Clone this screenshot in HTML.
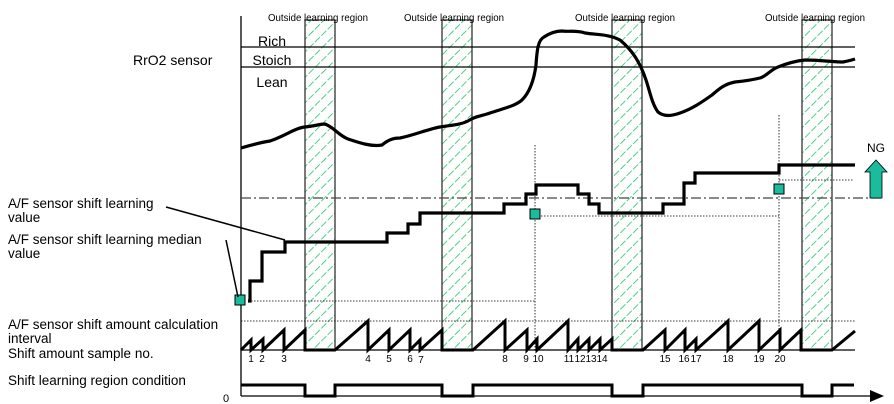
<!DOCTYPE html>
<html><head><meta charset="utf-8"><style>
html,body{margin:0;padding:0;background:#fff;}
svg{display:block;font-family:"Liberation Sans",Arial,sans-serif;}
</style></head><body>
<svg width="894" height="404" viewBox="0 0 894 404" xmlns="http://www.w3.org/2000/svg">
<defs>
<pattern id="h" patternUnits="userSpaceOnUse" width="9" height="9" patternTransform="rotate(45)">
<line x1="0" y1="0" x2="0" y2="9" stroke="#22c46a" stroke-width="1.6" stroke-dasharray="5,2"/>
</pattern>
</defs>
<g stroke="#333" stroke-width="1.3">
<rect x="305" y="20" width="30" height="330" fill="url(#h)"/>
<rect x="442" y="20" width="30" height="330" fill="url(#h)"/>
<rect x="612" y="20" width="30" height="330" fill="url(#h)"/>
<rect x="802" y="20" width="30" height="330" fill="url(#h)"/>
</g>
<g font-size="10.5" fill="#000" text-anchor="middle">
<text x="318" y="21" textLength="100" lengthAdjust="spacingAndGlyphs">Outside learning region</text>
<text x="454" y="21" textLength="100" lengthAdjust="spacingAndGlyphs">Outside learning region</text>
<text x="625" y="21" textLength="100" lengthAdjust="spacingAndGlyphs">Outside learning region</text>
<text x="815" y="21" textLength="100" lengthAdjust="spacingAndGlyphs">Outside learning region</text>
</g>
<line x1="241" y1="16" x2="241" y2="396" stroke="#000" stroke-width="1.3"/>
<line x1="241" y1="47" x2="855" y2="47" stroke="#000" stroke-width="1.2"/>
<line x1="241" y1="67" x2="855" y2="67" stroke="#000" stroke-width="1.2"/>
<g font-size="14" text-anchor="middle">
<text x="272" y="46">Rich</text>
<text x="272" y="65">Stoich</text>
<text x="272" y="87">Lean</text>
</g>
<text x="133" y="65" font-size="14">RrO2 sensor</text>
<path d="M241,148 C255,144 262,142 270,141 C285,136 295,128 305,127 C315,126 320,124 325,124 C335,128 338,135 348,139 C360,143 372,147 382,145 C388,140 393,138 400,138 C415,135 428,129 440,127 C452,125 460,125 468,121 C475,116 482,116 490,113 C505,108 515,106 522,100 C530,92 534,80 536,65 C537,50 538,40 544,37 C550,33 556,31 562,31 C570,32 576,30 585,33 C598,35 608,34 620,40 C632,50 640,62 646,80 C650,92 652,104 658,112 C664,117 672,116 680,113 C692,109 702,102 712,95 C720,88 725,84 735,82 C745,81 752,80 760,78 C767,76 770,70 778,67 C788,63 795,61 805,60 C820,60 835,62 843,62 C848,61 852,60 855,59" fill="none" stroke="#000" stroke-width="3.2" stroke-linejoin="round"/>
<line x1="241" y1="198" x2="882" y2="198" stroke="#444" stroke-width="1.2" stroke-dasharray="10,3,2,3"/>
<g stroke="#000" stroke-width="0.8" stroke-dasharray="1.5,1.5" fill="none">
<line x1="248" y1="301" x2="535" y2="301"/>
<line x1="241" y1="321" x2="855" y2="321"/>
<line x1="535" y1="145" x2="535" y2="350"/>
<line x1="535" y1="216" x2="779" y2="216"/>
<line x1="779" y1="115" x2="779" y2="350"/>
<line x1="779" y1="180" x2="853" y2="180"/>
</g>
<path d="M248,301 H250 V281 H262 V252 H285 V242 H387 V233 H408 V224 H420 V213 H504 V204 H526 V194 H536 V185 H578 V194 H589 V204 H599 V213 H663 V204 H684 V183 H695 V173 H779 V165 H855" fill="none" stroke="#000" stroke-width="3.2"/>
<g fill="#1abc9c" stroke="#000" stroke-width="1">
<rect x="235" y="295" width="10" height="10"/>
<rect x="530" y="209" width="10" height="10"/>
<rect x="774" y="184" width="10" height="10"/>
</g>
<text x="876" y="152" font-size="12" text-anchor="middle">NG</text>
<path d="M870,198 V172 H865 L876,160 L887,172 H882 V198 Z" fill="#1abc9c" stroke="#000" stroke-width="0.8"/>
<g font-size="13.5">
<text x="8" y="208">A/F sensor shift learning</text>
<text x="8" y="222">value</text>
<text x="8" y="244">A/F sensor shift learning median</text>
<text x="8" y="258">value</text>
<text x="8" y="329">A/F sensor shift amount calculation</text>
<text x="8" y="343">interval</text>
<text x="8" y="358">Shift amount sample no.</text>
<text x="8" y="385">Shift learning region condition</text>
</g>
<text x="223" y="402" font-size="11">0</text>
<line x1="166" y1="207" x2="285" y2="240" stroke="#000" stroke-width="1.5"/>
<line x1="226" y1="240" x2="238" y2="297" stroke="#000" stroke-width="1.5"/>
<line x1="241" y1="350" x2="855" y2="350" stroke="#000" stroke-width="1.2"/>
<path d="M241,350 L251,340 V350 L263,339 V350 L284,330 V350 L305,330 V350 H335 L368,321 V350 L389,330 V350 L410,330 V350 L420,340 V350 L442,330 V350 H473 L505,321 V350 L527,330 V350 L537,339 V350 L568,321 V350 L578,339 V350 L589,339 V350 L600,339 V350 L612,339 V350 H643 L665,330 V350 L685,330 V350 L696,339 V350 L728,321 V350 L759,321 V350 L780,330 V350 L801,330 V350 H832 L855,331" fill="none" stroke="#000" stroke-width="3" stroke-linejoin="miter"/>
<g font-size="10" text-anchor="middle">
<text x="251" y="362">1</text><text x="262" y="362">2</text><text x="284" y="362">3</text>
<text x="368" y="362">4</text><text x="389" y="362">5</text><text x="410" y="362">6</text><text x="421" y="363">7</text>
<text x="505" y="362">8</text><text x="526" y="362">9</text><text x="538" y="362">10</text>
<text x="569" y="362">11</text><text x="580" y="362">12</text><text x="591" y="362">13</text><text x="602" y="362">14</text>
<text x="665" y="362">15</text><text x="684" y="362">16</text><text x="696" y="362">17</text>
<text x="728" y="362">18</text><text x="759" y="362">19</text><text x="780" y="362">20</text>
</g>
<line x1="241" y1="396" x2="870" y2="396" stroke="#000" stroke-width="1.2"/>
<path d="M870,390 L884,396 L870,402 Z" fill="#000"/>
<path d="M241,385 H305 V396 H335 V385 H442 V396 H473 V385 H612 V396 H643 V385 H802 V396 H832 V385 H854" fill="none" stroke="#000" stroke-width="3"/>
</svg>
</body></html>
